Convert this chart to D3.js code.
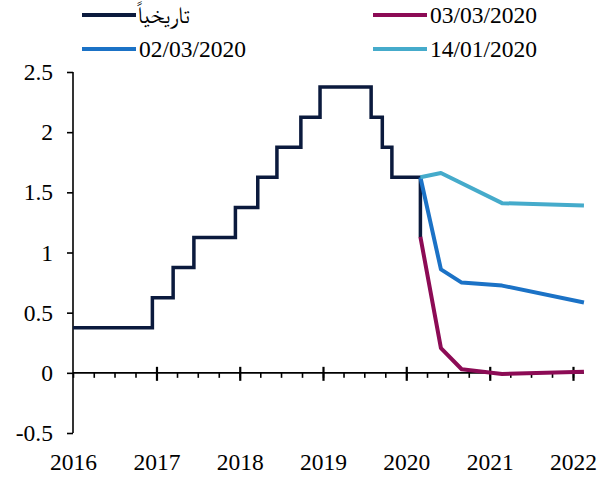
<!DOCTYPE html>
<html>
<head>
<meta charset="utf-8">
<script src="https://cdn.jsdelivr.net/npm/d3@7"></script>
</head>
<body style="margin:0; background:#fff">
<svg id="chart" width="611" height="479"></svg>
<script>
// historical policy rate (step line), dates where the rate changed
const histDates = ["2016-01-01", "2016-12-14", "2017-03-15", "2017-06-14", "2017-12-13", "2018-03-21",
    "2018-06-13", "2018-09-26", "2018-12-19", "2019-07-31", "2019-09-18", "2019-10-30", "2020-03-03"];
const histValues = [0.375, 0.625, 0.875, 1.125, 1.375, 1.625, 1.875, 2.125, 2.375, 2.125, 1.875, 1.625, 1.125];
const histEnd = "2020-03-03";

// market expectations at three dates
const fcDates = ["2020-03-03", "2020-06-01", "2020-08-31", "2021-02-24", "2022-02-18"];
const fc0114 = [1.625, 1.66, null, 1.41, 1.39];
const fc0203 = [1.625, 0.86, 0.75, 0.725, 0.585];
const fc0303 = [1.13, 0.205, 0.03, -0.01, 0.01];

const yTicks = [-0.5, 0, 0.5, 1, 1.5, 2, 2.5];
const legendLabels = ["تاريخياً", "03/03/2020", "02/03/2020", "14/01/2020"];
const colors = ["#0b1a3d", "#8c0b55", "#1b72c6", "#45abcb"];

const FONT = "'Liberation Serif', FreeSerif, serif";
const parse = d3.timeParse("%Y-%m-%d");
const svg = d3.select("#chart");

const x = d3.scaleTime()
    .domain([parse("2016-01-01"), parse("2022-01-01")])
    .range([73, 573]);
const y = d3.scaleLinear()
    .domain([-0.5, 2.5])
    .range([433, 72]);

// y axis
const yAxis = svg.append("g")
    .attr("transform", "translate(73,0)")
    .call(d3.axisLeft(y).tickValues(yTicks).tickSize(6).tickPadding(14).tickFormat(d => String(d)));
yAxis.attr("font-family", FONT).attr("font-size", 23.5);
yAxis.selectAll("path, line").attr("stroke", "#000").attr("stroke-width", 1.6);
yAxis.select(".domain").attr("d", "M0," + y(-0.5) + "V" + y(2.5));
yAxis.selectAll("text").attr("fill", "#000");

// x axis at zero: quarterly minor ticks, yearly major ticks, labels under the plot
const lastDate = parse(fcDates[fcDates.length - 1]);
const xg = svg.append("g").attr("transform", "translate(0," + y(0) + ")");
xg.append("line")
    .attr("x1", x.range()[0]).attr("x2", x(lastDate))
    .attr("stroke", "#000").attr("stroke-width", 1.6);

const minor = xg.append("g")
    .call(d3.axisBottom(x).ticks(d3.timeMonth.every(3)).tickSize(5).tickFormat(""));
minor.select(".domain").remove();
minor.selectAll("line").attr("stroke", "#000").attr("stroke-width", 1.6);

const major = xg.append("g")
    .call(d3.axisBottom(x).ticks(d3.timeYear.every(1)).tickSize(8).tickPadding(72).tickFormat(d3.timeFormat("%Y")));
major.attr("font-family", FONT).attr("font-size", 23.5);
major.select(".domain").remove();
major.selectAll("line").attr("y1", -6).attr("stroke", "#000").attr("stroke-width", 2.2);
major.selectAll("text").attr("fill", "#000");
// the first year sits on the y axis, keep its label only
major.selectAll(".tick").filter(d => d.getFullYear() === 2016).select("line").remove();

// historical step line
const histData = histDates.map((d, i) => ({ date: parse(d), value: histValues[i] }));
histData.push({ date: parse(histEnd), value: histValues[histValues.length - 1] });

svg.append("path")
    .datum(histData)
    .attr("fill", "none")
    .attr("stroke", colors[0])
    .attr("stroke-width", 3.5)
    .attr("d", d3.line().curve(d3.curveStepAfter).x(d => x(d.date)).y(d => y(d.value)));

// forecast curves
const line = d3.line()
    .x(d => x(d.date)).y(d => y(d.value));
const series = [
    { values: fc0303, color: colors[1] },
    { values: fc0203, color: colors[2] },
    { values: fc0114, color: colors[3] }
];
series.forEach(s => {
    const data = fcDates.map((d, i) => ({ date: parse(d), value: s.values[i] }))
        .filter(d => d.value != null);
    svg.append("path")
        .datum(data)
        .attr("fill", "none")
        .attr("stroke", s.color)
        .attr("stroke-width", 4)
        .attr("stroke-linejoin", "round")
        .attr("d", line);
});

// legend, two columns
const legendPos = [[82, 15], [373, 15], [82, 49], [373, 49]];
legendLabels.forEach((label, i) => {
    const g = svg.append("g").attr("transform", "translate(" + legendPos[i][0] + "," + legendPos[i][1] + ")");
    g.append("line")
        .attr("x1", 0).attr("x2", 54)
        .attr("stroke", colors[i]).attr("stroke-width", 4);
    g.append("text")
        .attr("x", i === 0 ? 55 : 57)
        .attr("dy", "0.33em")
        .attr("font-family", FONT)
        .attr("font-size", 23.5)
        .text(label);
});
</script>
</body>
</html>
